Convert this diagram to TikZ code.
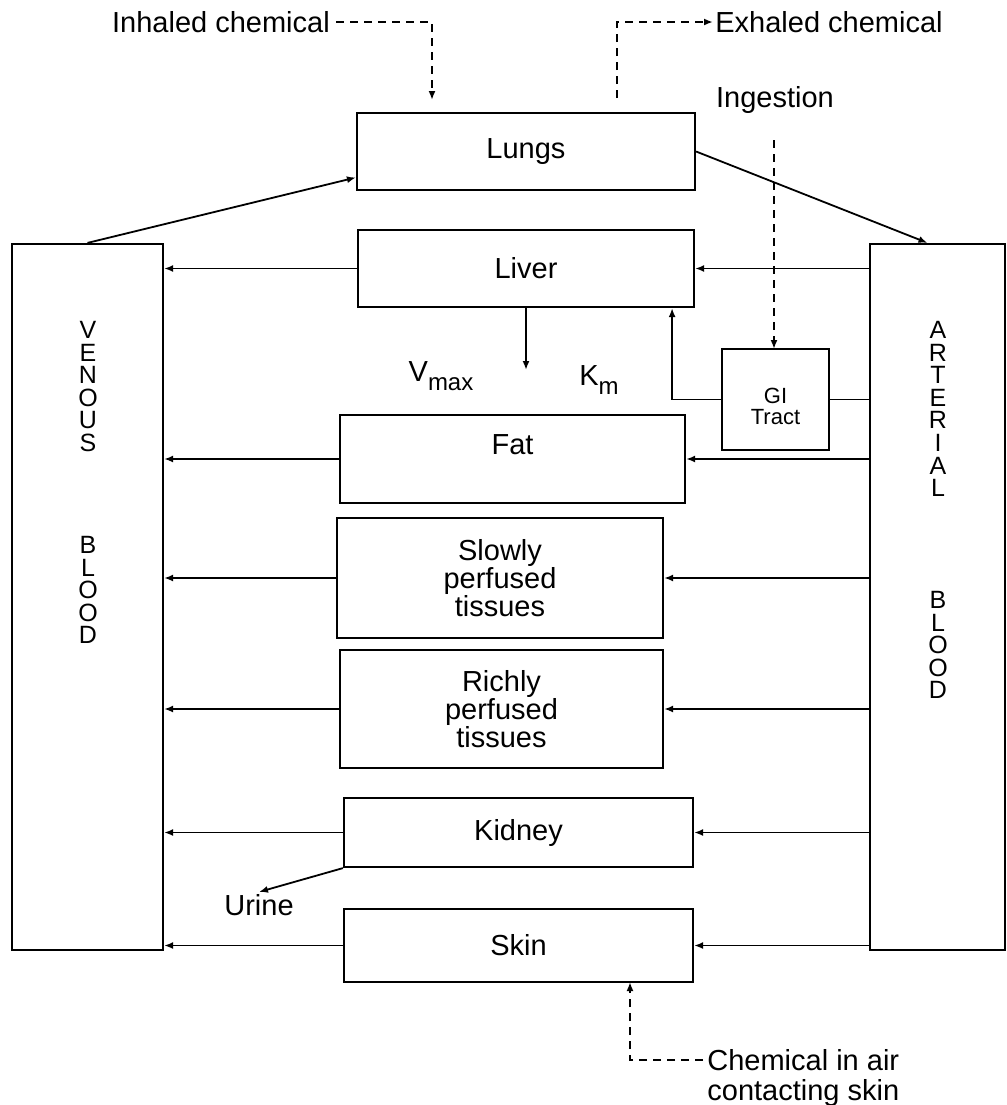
\documentclass[tikz,border=0pt]{standalone}
\usepackage{fontspec}
\setmainfont{Liberation Sans}
\usepackage{tikz}
\usetikzlibrary{arrows.meta,positioning}

\begin{document}
\begin{tikzpicture}[
  x=0.5pt, y=-0.5pt,                          % one unit = one pixel of the sketch
  every node/.style = {font=\fontsize{14.5}{14}\selectfont, inner sep=1pt},
  %--- node styles ---------------------------------------------------
  organst/.style  = {draw, line width=1.1pt, rectangle, inner sep=0pt,
                     align=center},
  bloodst/.style  = {draw, line width=1.1pt, rectangle, inner sep=0pt},
  letterst/.style = {align=center, font=\fontsize{12.5}{11.3}\selectfont},
  gist/.style     = {organst, font=\fontsize{11}{10.5}\selectfont},
  arr/.style      = {-{Latex[length=4.5pt,width=3.5pt]}, line width=0.9pt},
  dasharr/.style  = {arr, dash pattern=on 4pt off 3pt},
  plainln/.style  = {line width=0.9pt},
]
\useasboundingbox (0,0) rectangle (1007,1105);

% ---- Nodes --------------------------------------------------------
\node[organst, minimum width=169pt, minimum height=38.5pt] (lungs)
    at (526,151.5) {Lungs};
\node[organst, minimum width=168pt, minimum height=38.5pt] (liver)
    at (526,268.5) {Liver};
\node[organst, minimum width=172.5pt, minimum height=44pt] (fat)
    at (512.5,459) {\raisebox{7pt}[\height][\depth]{Fat}};
\node[organst, minimum width=163pt, minimum height=60pt] (slowly)
    at (500,578) {Slowly\\perfused\\tissues};
\node[organst, minimum width=161.5pt, minimum height=59pt] (richly)
    at (501.5,709) {Richly\\perfused\\tissues};
\node[organst, minimum width=174.5pt, minimum height=34.5pt] (kidney)
    at (518.5,832.5) {Kidney};
\node[organst, minimum width=174.5pt, minimum height=36.5pt] (skin)
    at (518.5,945.5) {Skin};
\node[gist, minimum width=53.5pt, minimum height=50.5pt] (gi)
    at (775.5,399.5)
    {\raisebox{-3.5pt}[\height][\depth]{GI}\\
     \raisebox{-3.5pt}[\height][\depth]{Tract}};

\node[bloodst, minimum width=75.5pt, minimum height=353pt] (venous)
    at (87.5,597) {};
\node[bloodst, minimum width=67.5pt, minimum height=353pt] (arterial)
    at (937.5,597) {};

\node[letterst] (venA) at (88,386.5) {V\\E\\N\\O\\U\\S};
\node[letterst] (venB) at (88,590)   {B\\L\\O\\O\\D};
\node[letterst] (artA) at (938,409)  {A\\R\\T\\E\\R\\I\\A\\L};
\node[letterst] (artB) at (938,645)  {B\\L\\O\\O\\D};

% ---- Labels -------------------------------------------------------
\node[inner xsep=3pt] (inhaled) at (221,22) {Inhaled chemical};
\node[anchor=west] (exhaled) at (713,22) {Exhaled chemical};
\node (ingestion) at (775,100) {Ingestion};
\node (vmax) at (441,376)
    {V\raisebox{-0.6ex}{\fontsize{12}{12}\selectfont max}};
\node (km)   at (599,380)
    {K\raisebox{-0.6ex}{\fontsize{12}{12}\selectfont m}};
\node (urine) at (259,905) {Urine};
\node[anchor=north west, align=left, font=\fontsize{14.5}{15}\selectfont]
    (chemskin) at (705,1047) {Chemical in air\\contacting skin};

\coordinate (intip)   at (432,100);
\coordinate (exfoot)  at (617,98);
\coordinate (ingtop)  at (774,140);
\coordinate (gitop)   at (774,349);
\coordinate (metab)   at (526,370);
\coordinate (chemend) at (703,1060);
\coordinate (skinin)  at (630,982);

% ---- Arrows -------------------------------------------------------
\draw[dasharr] (inhaled) -| (intip);
\draw[dasharr] (exfoot)  |- (exhaled);
\draw[dasharr] (ingtop)  -- (gitop);
\draw[dasharr] (chemend) -| (skinin);

\draw[arr] (venous.north) -- ([yshift=-13pt]lungs.west);
\draw[arr] (lungs.east)   -- ([xshift=-5pt]arterial.north);

\draw[arr] (liver.west) -- (liver.west -| venous.east);
\draw[arr] (arterial.west |- liver.east) -- (liver.east);
\draw[arr] (liver) -- (metab);
\draw[arr] (gi.west) -| ([xshift=-11.5pt]liver.south east);
\draw[plainln] (gi.east) -- (gi.east -| arterial.west);

\draw[arr] (fat.west) -- (fat.west -| venous.east);
\draw[arr] (arterial.west |- fat.east) -- (fat.east);

\draw[arr] (slowly.west) -- (slowly.west -| venous.east);
\draw[arr] (arterial.west |- slowly.east) -- (slowly.east);

\draw[arr] (richly.west) -- (richly.west -| venous.east);
\draw[arr] (arterial.west |- richly.east) -- (richly.east);

\draw[arr] (kidney.west) -- (kidney.west -| venous.east);
\draw[arr] (arterial.west |- kidney.east) -- (kidney.east);
\draw[arr] (kidney.south west) -- (urine.north);

\draw[arr] (skin.west) -- (skin.west -| venous.east);
\draw[arr] (arterial.west |- skin.east) -- (skin.east);

\end{tikzpicture}
\end{document}
